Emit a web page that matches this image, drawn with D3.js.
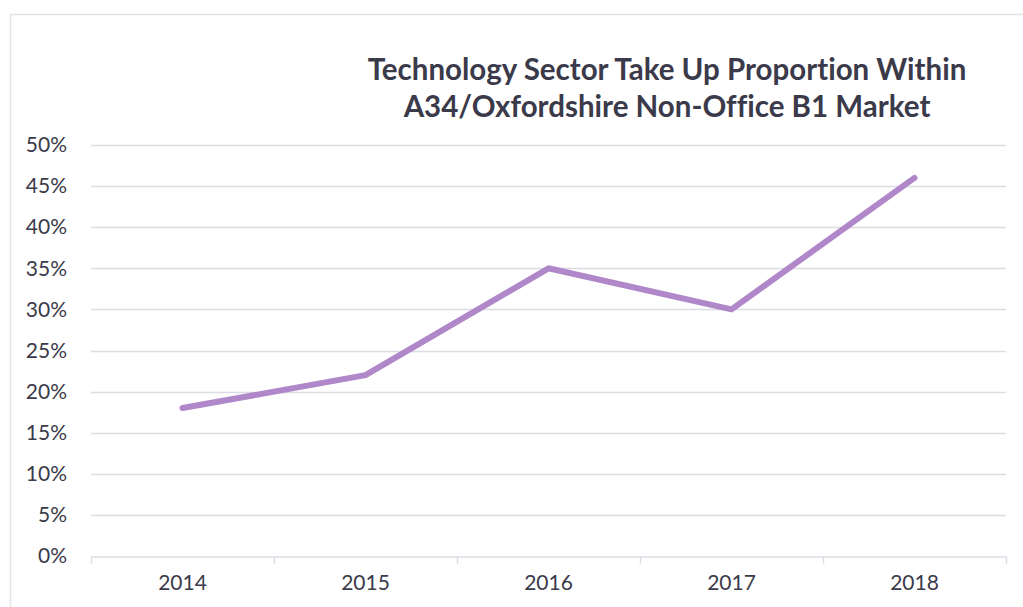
<!DOCTYPE html>
<html>
<head>
<meta charset="utf-8">
<script src="https://cdn.jsdelivr.net/npm/d3@7"></script>
<style>
  body { margin: 0; background: #fff; }
  svg { display: block; }
  text { font-variant-ligatures: none; }
</style>
</head>
<body>
<div id="chart"></div>
<script>
// data
var years = ["2014", "2015", "2016", "2017", "2018"];
var takeUp = [0.18, 0.22, 0.35, 0.30, 0.46];
var yTicks = [0, 0.05, 0.10, 0.15, 0.20, 0.25, 0.30, 0.35, 0.40, 0.45, 0.50];
var titleLines = ["Technology Sector Take Up Proportion Within", "A34/Oxfordshire Non-Office B1 Market"];

var W = 1023, H = 607,
  margin = { left: 91, right: 17, top: 145, bottom: 51 },
  textCol = "#3b3a4a",
  gridCol = "#dcdce4",
  font = "Lato, 'Open Sans', sans-serif";

var svg = d3.select("#chart").append("svg")
  .attr("width", W).attr("height", H);

// chart frame
svg.append("rect")
  .attr("x", 10.5).attr("y", 14.5)
  .attr("width", W + 20).attr("height", H + 20)
  .attr("fill", "none").attr("stroke", "#e3e3ea").attr("stroke-width", 1.5);

var x = d3.scaleBand().domain(years).range([margin.left, W - margin.right]);
var y = d3.scaleLinear().domain([0, 0.5]).range([H - margin.bottom, margin.top]);

// gridlines
svg.append("g").selectAll("line")
  .data(yTicks.slice(1))
  .join("line")
  .attr("x1", margin.left).attr("x2", W - margin.right)
  .attr("y1", function(d) { return Math.round(y(d)) + 0.5; })
  .attr("y2", function(d) { return Math.round(y(d)) + 0.5; })
  .attr("stroke", gridCol).attr("stroke-width", 1.5);

// y axis labels
var yAxis = svg.append("g")
  .attr("transform", "translate(" + margin.left + ",0)")
  .call(d3.axisLeft(y).tickValues(yTicks).tickFormat(d3.format(".0%")).tickSize(0).tickPadding(24));
yAxis.select(".domain").remove();
yAxis.selectAll("text")
  .attr("fill", textCol).style("font-family", font).style("font-size", "21px");

// x axis with category boundary ticks
var xAxis = svg.append("g")
  .attr("transform", "translate(0," + (Math.round(y(0)) + 0.5) + ")")
  .call(d3.axisBottom(x).tickSize(0).tickPadding(19));
xAxis.select(".domain").attr("stroke", gridCol).attr("stroke-width", 1.5);
xAxis.selectAll("text")
  .attr("fill", textCol).style("font-family", font).style("font-size", "21px");
var bounds = years.map(function(d) { return x(d); }).concat([x(years[years.length - 1]) + x.bandwidth()]);
xAxis.selectAll(".bound").data(bounds).join("line")
  .attr("class", "bound")
  .attr("x1", function(d) { return Math.round(d) + 0.5; })
  .attr("x2", function(d) { return Math.round(d) + 0.5; })
  .attr("y1", 0).attr("y2", 7)
  .attr("stroke", gridCol).attr("stroke-width", 1.5);

// the line
var line = d3.line()
  .x(function(d, i) { return x(years[i]) + x.bandwidth() / 2; })
  .y(function(d) { return y(d); });

svg.append("path")
  .datum(takeUp)
  .attr("d", line)
  .attr("fill", "none")
  .attr("stroke", "#b088c9")
  .attr("stroke-width", 6)
  .attr("stroke-linecap", "round")
  .attr("stroke-linejoin", "round");

// title
svg.append("text")
  .attr("x", 667).attr("y", 80)
  .attr("text-anchor", "middle")
  .attr("fill", textCol)
  .style("font-family", font)
  .style("font-weight", "bold")
  .style("font-size", "29.5px")
  .selectAll("tspan").data(titleLines).join("tspan")
  .attr("x", 667)
  .attr("dy", function(d, i) { return i ? 37 : 0; })
  .text(function(d) { return d; });
</script>
</body>
</html>
